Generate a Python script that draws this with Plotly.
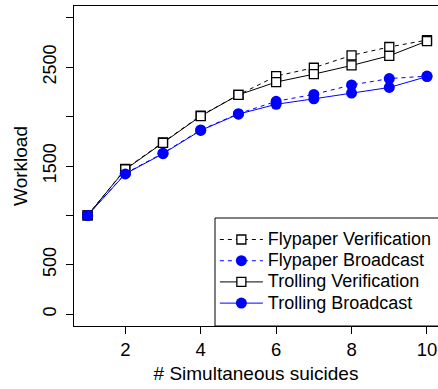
import plotly.graph_objects as go

suicides = [1, 2, 3, 4, 5, 6, 7, 8, 9, 10]
flypaper_verification = [1000, 1470, 1740, 2010, 2220, 2410, 2495, 2620, 2705, 2775]
flypaper_broadcast = [1000, 1425, 1630, 1865, 2030, 2155, 2225, 2320, 2385, 2410]
trolling_verification = [1000, 1465, 1735, 2005, 2220, 2350, 2430, 2518, 2616, 2765]
trolling_broadcast = [1000, 1420, 1625, 1860, 2025, 2125, 2180, 2238, 2295, 2405]
series_names = ["Flypaper Verification", "Flypaper Broadcast",
                "Trolling Verification", "Trolling Broadcast"]

y_tickvals = [0, 500, 1000, 1500, 2000, 2500, 3000]
y_ticktext = ["0", "500", "", "1500", "", "2500", ""]
x_tickvals = [2, 4, 6, 8, 10]

FONT = "Liberation Sans, Arial, Helvetica, sans-serif"
BLUE = "#0000FF"
DASH = "4px,4px"


def lbl(s):
    return '<span style="font-size:18px">' + s + '</span>'


fig = go.Figure()
fig.add_trace(go.Scatter(
    x=suicides, y=flypaper_verification, mode="lines+markers",
    name=lbl(series_names[0]),
    line=dict(color="black", width=1, dash=DASH),
    marker=dict(symbol="square", size=9, color="white", line=dict(color="black", width=1.3)),
))
fig.add_trace(go.Scatter(
    x=suicides, y=flypaper_broadcast, mode="lines+markers",
    name=lbl(series_names[1]),
    line=dict(color=BLUE, width=1, dash=DASH),
    marker=dict(symbol="circle", size=11, color=BLUE, line=dict(width=0)),
))
fig.add_trace(go.Scatter(
    x=suicides, y=trolling_verification, mode="lines+markers",
    name=lbl(series_names[2]),
    line=dict(color="black", width=1),
    marker=dict(symbol="square", size=9, color="white", line=dict(color="black", width=1.3)),
))
fig.add_trace(go.Scatter(
    x=suicides, y=trolling_broadcast, mode="lines+markers",
    name=lbl(series_names[3]),
    line=dict(color=BLUE, width=1),
    marker=dict(symbol="circle", size=11, color=BLUE, line=dict(width=0)),
))

# legend frame (extends past the right edge like the reference)
fig.add_shape(
    type="rect", xref="paper", yref="paper",
    x0=0.3874, x1=1.05, y0=0.0, y1=0.3375,
    line=dict(color="black", width=1), fillcolor="white", layer="above",
)

fig.update_layout(
    width=438, height=389,
    margin=dict(l=74, r=0, t=6, b=63, autoexpand=False),
    paper_bgcolor="white", plot_bgcolor="white",
    font=dict(family=FONT, size=18, color="black"),
    showlegend=True,
    legend=dict(
        x=0.387, y=0.319, xanchor="left", yanchor="top",
        borderwidth=0, bgcolor="rgba(0,0,0,0)",
        font=dict(family=FONT, size=14, color="black"),
        itemwidth=43, tracegroupgap=0, itemsizing="trace",
    ),
    xaxis=dict(
        range=[0.64, 10.292], tickvals=x_tickvals, automargin=False,
        showline=True, linecolor="black", linewidth=1, mirror=True,
        ticks="outside", ticklen=7, tickcolor="black", tickwidth=1,
        showgrid=False, zeroline=False,
        tickfont=dict(size=18.5),
        title=dict(text="# Simultaneous suicides", font=dict(size=19), standoff=7),
    ),
    yaxis=dict(
        range=[-120, 3120], tickvals=y_tickvals, ticktext=y_ticktext,
        tickangle=-90, automargin=False,
        showline=True, linecolor="black", linewidth=1, mirror=False,
        ticks="outside", ticklen=7, tickcolor="black", tickwidth=1,
        showgrid=False, zeroline=False,
        tickfont=dict(size=18), ticklabelstandoff=3,
        title=dict(text="Workload", font=dict(size=19), standoff=7),
    ),
)

fig.write_html(
    "out.html",
    config={"displayModeBar": False},
    post_script="document.body.style.margin='0px';document.body.style.padding='0px';",
)
